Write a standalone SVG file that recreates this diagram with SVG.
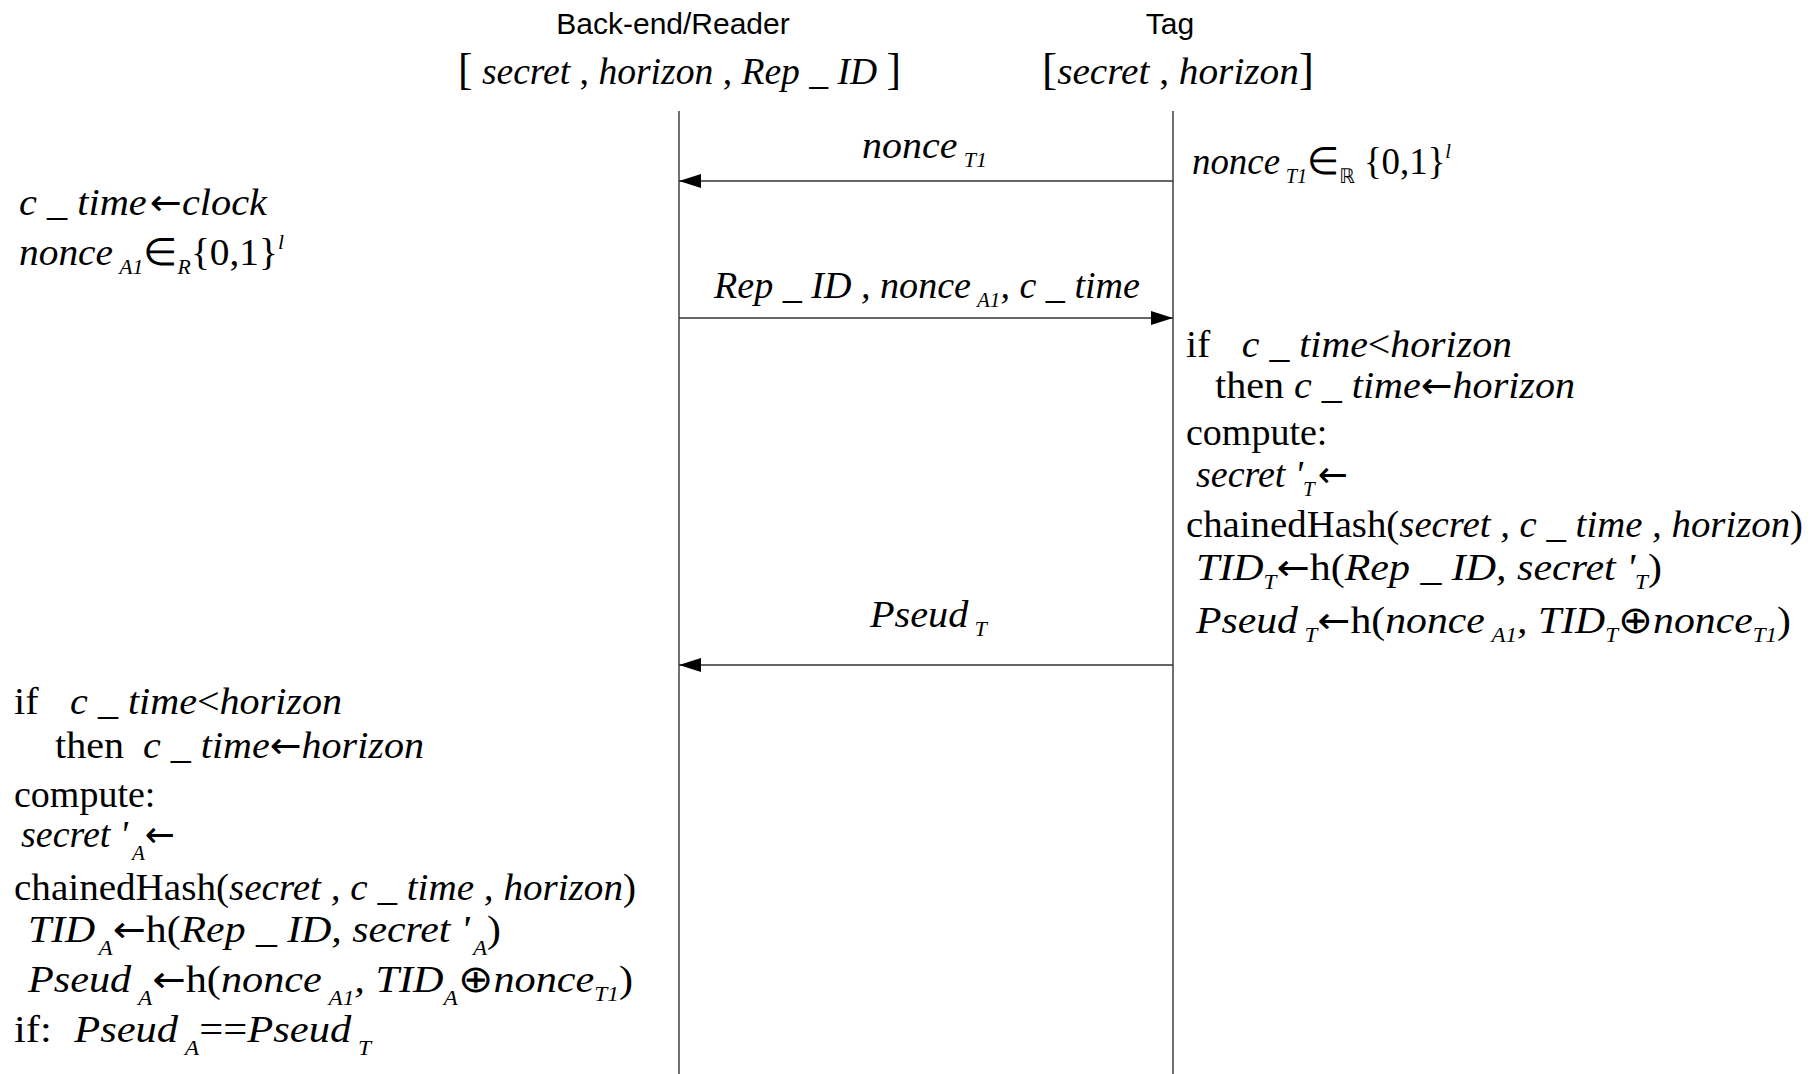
<svg xmlns="http://www.w3.org/2000/svg" width="1820" height="1074" viewBox="0 0 1820 1074">
<style>
.m{font-family:'Liberation Serif','Times New Roman',Times,serif;font-size:38px;fill:#000}
.i{font-style:italic}
.s{font-size:21px;font-style:italic}
.a{font-family:'DejaVu Sans',sans-serif;font-size:36px;font-style:normal}
.b{font-size:44px;font-style:normal}
.hd{font-family:'Liberation Sans',Arial,sans-serif;font-size:30px;fill:#000}
.ln{stroke:#222;stroke-width:1.3;fill:none}
.ar{stroke:#333;stroke-width:1.5;fill:none;marker-end:url(#ah)}
</style>
<defs>
<marker id="ah" markerUnits="userSpaceOnUse" markerWidth="24" markerHeight="16" refX="22" refY="7" orient="auto">
<path d="M0,0 L22,7 L0,14 Z" fill="#000"/>
</marker>
</defs>
<rect width="1820" height="1074" fill="#fff"/>

<g id="reader">
<text class="hd" x="673" y="34" text-anchor="middle">Back-end/Reader</text>
<text class="m" x="458" y="84" textLength="443" lengthAdjust="spacingAndGlyphs"><tspan class="b">[</tspan> <tspan class="i">secret</tspan> , <tspan class="i">horizon</tspan> , <tspan class="i">Rep _ ID</tspan> <tspan class="b">]</tspan></text>
<line class="ln" x1="679" y1="111" x2="679" y2="1074"/>
</g>

<g id="tag">
<text class="hd" x="1170" y="34" text-anchor="middle">Tag</text>
<text class="m" x="1042" y="84" textLength="272" lengthAdjust="spacingAndGlyphs"><tspan class="b">[</tspan><tspan class="i">secret</tspan> , <tspan class="i">horizon</tspan><tspan class="b">]</tspan></text>
<line class="ln" x1="1173" y1="111" x2="1173" y2="1074"/>
</g>

<g id="connectors">
<line class="ar" x1="1173" y1="181" x2="679" y2="181"/>
<line class="ar" x1="679" y1="318" x2="1173" y2="318"/>
<line class="ar" x1="1173" y1="665" x2="679" y2="665"/>
</g>

<g id="msg1">
<text class="m i" x="862" y="158" textLength="125" lengthAdjust="spacingAndGlyphs">nonce<tspan class="s" dx="6" dy="9">T1</tspan></text>
</g>
<g id="msg2">
<text class="m i" x="714" y="298" textLength="426" lengthAdjust="spacingAndGlyphs">Rep _ ID , nonce<tspan class="s" dx="6" dy="9">A1</tspan><tspan dy="-9">, c _ time</tspan></text>
</g>
<g id="msg3">
<text class="m i" x="870" y="627" textLength="117" lengthAdjust="spacingAndGlyphs">Pseud<tspan class="s" dx="6" dy="9">T</tspan></text>
</g>

<g id="tag-nonce">
<text class="m" x="1192" y="174" textLength="259" lengthAdjust="spacingAndGlyphs"><tspan class="i">nonce</tspan><tspan class="s" dx="6" dy="9">T1</tspan><tspan dy="-9">∈</tspan><tspan font-family="DejaVu Sans,sans-serif" font-size="20" dy="9">ℝ</tspan><tspan dy="-9"> {0,1}</tspan><tspan class="s" dy="-16">l</tspan></text>
</g>

<g id="reader-init">
<text class="m i" x="19" y="215" textLength="248" lengthAdjust="spacingAndGlyphs">c _ time<tspan class="a" dx="3">←</tspan>clock</text>
<text class="m" x="19" y="265" textLength="265" lengthAdjust="spacingAndGlyphs"><tspan class="i">nonce</tspan><tspan class="s" dx="6" dy="9">A1</tspan><tspan dy="-9">∈</tspan><tspan class="s" dy="9">R</tspan><tspan dy="-9">{0,1}</tspan><tspan class="s" dy="-16">l</tspan></text>
</g>

<g id="tag-compute">
<text class="m" x="1186" y="357" textLength="326" lengthAdjust="spacingAndGlyphs">if<tspan class="i" dx="30">c _ time</tspan>&lt;<tspan class="i">horizon</tspan></text>
<text class="m" x="1215" y="398" textLength="360" lengthAdjust="spacingAndGlyphs">then <tspan class="i">c _ time</tspan><tspan class="a">←</tspan><tspan class="i">horizon</tspan></text>
<text class="m" x="1186" y="445">compute:</text>
<text class="m" x="1196" y="487"><tspan class="i">secret '</tspan><tspan class="s" dy="9">T</tspan><tspan class="a" dx="3" dy="-9">←</tspan></text>
<text class="m" x="1186" y="537" textLength="617" lengthAdjust="spacingAndGlyphs">chainedHash(<tspan class="i">secret , c _ time , horizon</tspan>)</text>
<text class="m" x="1196" y="580" textLength="466" lengthAdjust="spacingAndGlyphs"><tspan class="i">TID</tspan><tspan class="s" dy="9">T</tspan><tspan class="a" dy="-9">←</tspan>h(<tspan class="i">Rep _ ID, secret '</tspan><tspan class="s" dy="9">T</tspan><tspan dy="-9">)</tspan></text>
<text class="m" x="1196" y="633" textLength="595" lengthAdjust="spacingAndGlyphs"><tspan class="i">Pseud</tspan><tspan class="s" dx="6" dy="9">T</tspan><tspan class="a" dy="-9">←</tspan>h(<tspan class="i">nonce</tspan><tspan class="s" dx="6" dy="9">A1</tspan><tspan dy="-9" class="i">, TID</tspan><tspan class="s" dy="9">T</tspan><tspan dy="-9">⊕</tspan><tspan class="i">nonce</tspan><tspan class="s" dy="9">T1</tspan><tspan dy="-9">)</tspan></text>
</g>

<g id="reader-compute">
<text class="m" x="14" y="714" textLength="328" lengthAdjust="spacingAndGlyphs">if<tspan class="i" dx="30">c _ time</tspan>&lt;<tspan class="i">horizon</tspan></text>
<text class="m" x="55" y="758" textLength="369" lengthAdjust="spacingAndGlyphs">then<tspan class="i" dx="18">c _ time</tspan><tspan class="a">←</tspan><tspan class="i">horizon</tspan></text>
<text class="m" x="14" y="807">compute:</text>
<text class="m" x="21" y="847"><tspan class="i">secret '</tspan><tspan class="s" dx="4" dy="13">A</tspan><tspan class="a" dy="-13">←</tspan></text>
<text class="m" x="14" y="900" textLength="622" lengthAdjust="spacingAndGlyphs">chainedHash(<tspan class="i">secret , c _ time , horizon</tspan>)</text>
<text class="m" x="28" y="942" textLength="473" lengthAdjust="spacingAndGlyphs"><tspan class="i">TID</tspan><tspan class="s" dx="3" dy="13">A</tspan><tspan class="a" dy="-13">←</tspan>h(<tspan class="i">Rep _ ID, secret '</tspan><tspan class="s" dx="3" dy="13">A</tspan><tspan dy="-13">)</tspan></text>
<text class="m" x="28" y="992" textLength="605" lengthAdjust="spacingAndGlyphs"><tspan class="i">Pseud</tspan><tspan class="s" dx="6" dy="13">A</tspan><tspan class="a" dy="-13">←</tspan>h(<tspan class="i">nonce</tspan><tspan class="s" dx="6" dy="13">A1</tspan><tspan dy="-13" class="i">, TID</tspan><tspan class="s" dy="13">A</tspan><tspan dy="-13">⊕</tspan><tspan class="i">nonce</tspan><tspan class="s" dy="9">T1</tspan><tspan dy="-9">)</tspan></text>
<text class="m" x="14" y="1042" textLength="357" lengthAdjust="spacingAndGlyphs">if:<tspan class="i" dx="20">Pseud</tspan><tspan class="s" dx="6" dy="13">A</tspan><tspan dy="-13">==</tspan><tspan class="i">Pseud</tspan><tspan class="s" dx="6" dy="13">T</tspan></text>
</g>
</svg>
